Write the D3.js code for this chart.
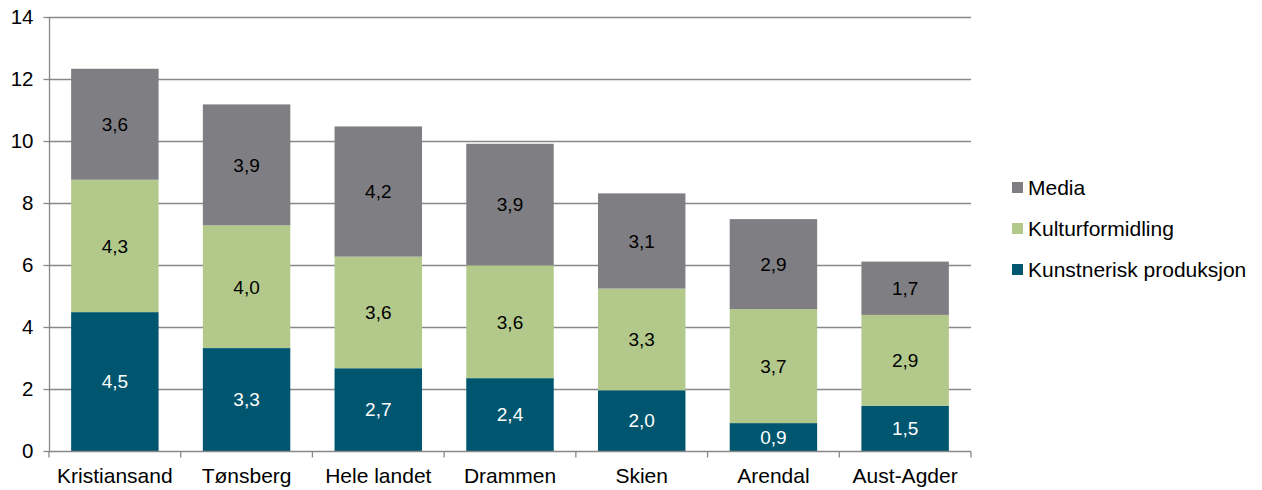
<!DOCTYPE html>
<html><head><meta charset="utf-8">
<script src="https://cdn.jsdelivr.net/npm/d3@7"></script>
<style>body{margin:0;background:#fff;} text{font-family:"Liberation Sans",Arial,sans-serif;}</style>
</head><body>
<svg id="c" width="1262" height="490"></svg>
<script>
const categories = ["Kristiansand","Tønsberg","Hele landet","Drammen","Skien","Arendal","Aust-Agder"];
const seriesNames = ["Kunstnerisk produksjon","Kulturformidling","Media"];
const kunstnerisk = [4.48, 3.32, 2.67, 2.35, 1.96, 0.90, 1.46];
const kulturformidling = [4.27, 3.96, 3.60, 3.64, 3.28, 3.68, 2.93];
const media = [3.58, 3.90, 4.20, 3.92, 3.07, 2.90, 1.72];
const yTicks = [0,2,4,6,8,10,12,14];
const colors = ["#00566f","#b3c98c","#7f7e83"];
const labelColors = ["#ffffff","#000000","#000000"];

const svg = d3.select("#c");
const x = d3.scaleBand().domain(categories).range([49,971]).paddingInner(0.336).paddingOuter(0.168);
const y = d3.scaleLinear().domain([0,14]).range([451,17]);

// gridlines
svg.append("g").selectAll("line").data(yTicks.filter(d=>d>0)).join("line")
  .attr("x1",49).attr("x2",971).attr("y1",d=>y(d)+0.5).attr("y2",d=>y(d)+0.5)
  .attr("stroke","#888888").attr("stroke-width",1.3);

const rows = categories.map((c,i)=>({cat:c, [seriesNames[0]]:kunstnerisk[i], [seriesNames[1]]:kulturformidling[i], [seriesNames[2]]:media[i]}));
const stacked = d3.stack().keys(seriesNames)(rows);

const g = svg.append("g");
stacked.forEach((s,si)=>{
  g.append("g").selectAll("rect").data(s).join("rect")
    .attr("x",d=>x(d.data.cat)).attr("width",x.bandwidth())
    .attr("y",d=>y(d[1])).attr("height",d=>y(d[0])-y(d[1]))
    .attr("fill",colors[si]);
  g.append("g").selectAll("text").data(s).join("text")
    .attr("x",d=>x(d.data.cat)+x.bandwidth()/2)
    .attr("y",d=>(y(d[0])+y(d[1]))/2)
    .attr("dy","0.36em").attr("text-anchor","middle")
    .attr("font-size","19px").attr("fill",labelColors[si])
    .text(d=>d3.format(".1f")(d[1]-d[0]).replace(".",","));
});

// y axis
const ya = svg.append("g").attr("transform","translate(49.5,0)")
  .call(d3.axisLeft(y).tickValues(yTicks).tickSize(6).tickFormat(d=>d));
ya.select(".domain").attr("stroke","#888888").attr("stroke-width",1.3).attr("d","M0,"+y(14)+"V"+y(0));
ya.selectAll(".tick line").attr("stroke","#888888").attr("stroke-width",1.3);
ya.selectAll(".tick text").attr("font-size","20.5px").attr("fill","#000").attr("x",-16).attr("font-family","Liberation Sans, Arial, sans-serif");

// x axis
const xa = svg.append("g").attr("transform","translate(0,451.5)");
xa.append("line").attr("x1",49).attr("x2",971).attr("stroke","#888888").attr("stroke-width",1.3);
const bounds = d3.range(categories.length+1).map(i=>49 + i*x.step());
xa.selectAll("line.t").data(bounds).join("line").attr("class","t")
  .attr("x1",d=>d).attr("x2",d=>d).attr("y1",0).attr("y2",6).attr("stroke","#888888").attr("stroke-width",1.3);
xa.selectAll("text").data(categories).join("text")
  .attr("x",d=>x(d)+x.bandwidth()/2).attr("y",31.5).attr("text-anchor","middle")
  .attr("font-size","21px").attr("fill","#000").text(d=>d);

// legend
const legendOrder = [2,1,0];
const lg = svg.append("g");
legendOrder.forEach((si,k)=>{
  const cy = 187.5 + k*41;
  lg.append("rect").attr("x",1012).attr("y",cy-5.5).attr("width",11).attr("height",11).attr("fill",colors[si]);
  lg.append("text").attr("x",1028).attr("y",cy).attr("dy","0.36em").attr("font-size","21px").attr("fill","#000").text(seriesNames[si]);
});
</script>
</body></html>
